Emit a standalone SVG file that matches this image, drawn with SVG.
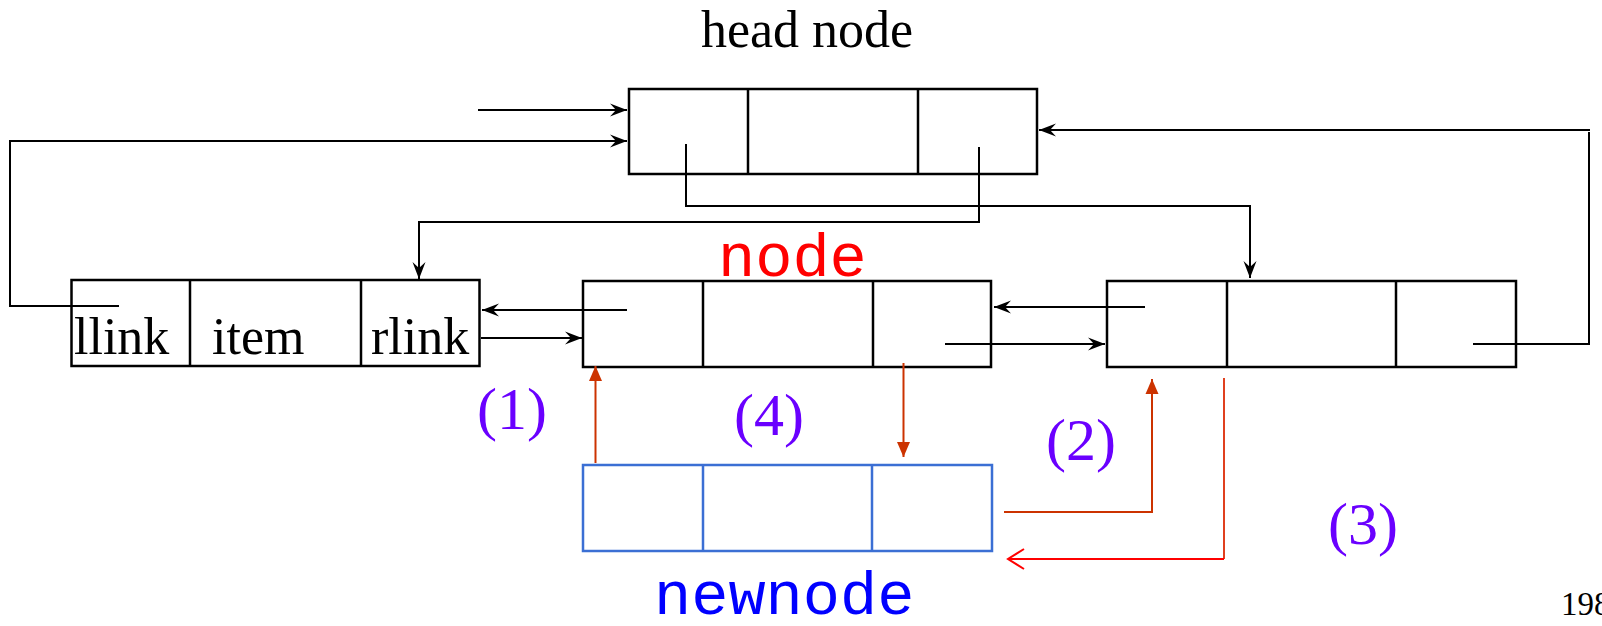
<svg xmlns="http://www.w3.org/2000/svg" width="1602" height="626" viewBox="0 0 1602 626">
<defs>
<style>
.box{fill:none;stroke:#000;stroke-width:2.5}
.nbox{fill:none;stroke:#3B6FD4;stroke-width:2.5}
.blk{fill:none;stroke:#000;stroke-width:2}
.red{fill:none;stroke:#CC3300;stroke-width:2}
.txt{font-family:"Liberation Serif",serif;font-size:52px;fill:#000}
.num{font-family:"Liberation Serif",serif;font-size:60px;fill:#6A00FF}
.mono{font-family:"Liberation Mono",monospace;font-size:62px}
</style>
<marker id="ab" markerWidth="20" markerHeight="14" viewBox="-17 -7 20 14" refX="0" refY="0" orient="auto" markerUnits="userSpaceOnUse">
<path d="M0,0 L-17,-6.5 L-11,0 L-17,6.5 Z" fill="#000"/>
</marker>
<marker id="ar" markerWidth="16" markerHeight="14" viewBox="-15 -7 16 14" refX="0" refY="0" orient="auto" markerUnits="userSpaceOnUse">
<path d="M0,0 L-15,-6.5 L-15,6.5 Z" fill="#CC3300"/>
</marker>
<marker id="av" markerWidth="20" markerHeight="24" viewBox="-17 -12 20 24" refX="0" refY="0" orient="auto" markerUnits="userSpaceOnUse">
<path d="M-16,-10 L0,0 L-16,10" fill="none" stroke="#FF0000" stroke-width="2"/>
</marker>
</defs>
<rect width="1602" height="626" fill="#fff"/>

<g id="head-node">
<text class="txt" x="807" y="47" text-anchor="middle">head node</text>
<rect class="box" x="629" y="89" width="408" height="85"/>
<line class="box" x1="748" y1="89" x2="748" y2="174"/>
<line class="box" x1="918" y1="89" x2="918" y2="174"/>
</g>

<g id="left-node">
<rect class="box" x="71.5" y="280" width="408" height="86"/>
<line class="box" x1="190" y1="280" x2="190" y2="366"/>
<line class="box" x1="361" y1="280" x2="361" y2="366"/>
<text class="txt" x="74" y="354">llink</text>
<text class="txt" x="212" y="354">item</text>
<text class="txt" x="371" y="354">rlink</text>
</g>

<g id="node">
<text class="mono" x="718" y="276" fill="#FF0000" font-size="62">node</text>
<rect class="box" x="583" y="281" width="408" height="86"/>
<line class="box" x1="703" y1="281" x2="703" y2="367"/>
<line class="box" x1="873" y1="281" x2="873" y2="367"/>
</g>

<g id="right-node">
<rect class="box" x="1107" y="281" width="409" height="86"/>
<line class="box" x1="1227" y1="281" x2="1227" y2="367"/>
<line class="box" x1="1396" y1="281" x2="1396" y2="367"/>
</g>

<g id="newnode">
<rect class="nbox" x="583" y="465" width="409" height="86"/>
<line class="nbox" x1="703" y1="465" x2="703" y2="551"/>
<line class="nbox" x1="872" y1="465" x2="872" y2="551"/>
<text class="mono" x="654" y="614" fill="#0000FF" font-size="63">newnode</text>
</g>

<g id="labels">
<text class="num" x="477" y="429">(1)</text>
<text class="num" x="734" y="435">(4)</text>
<text class="num" x="1046" y="460">(2)</text>
<text class="num" x="1328" y="544">(3)</text>
<text x="1561" y="615" font-family="Liberation Serif,serif" font-size="33" fill="#000">198</text>
</g>

<g id="connectors">
<path class="blk" d="M478,110 H627" marker-end="url(#ab)"/>
<path class="blk" d="M119,306 H10 V141 H627" marker-end="url(#ab)"/>
<path class="blk" d="M686,144 V206 H1250 V278" marker-end="url(#ab)"/>
<path class="blk" d="M979,147 V222 H419 V279" marker-end="url(#ab)"/>
<path class="blk" d="M627,310 H482" marker-end="url(#ab)"/>
<path class="blk" d="M481,338 H582" marker-end="url(#ab)"/>
<path class="blk" d="M1145,307 H994" marker-end="url(#ab)"/>
<path class="blk" d="M945,344 H1105" marker-end="url(#ab)"/>
<path class="blk" d="M1473,344 H1589 V132 M1590,130 H1039" marker-end="url(#ab)"/>
<path class="red" d="M595.5,463 V366" marker-end="url(#ar)"/>
<path class="red" d="M903.5,363 V457" marker-end="url(#ar)"/>
<path class="red" d="M1004,512 H1152 V379" marker-end="url(#ar)"/>
<path fill="none" stroke="#E0401F" stroke-width="2" d="M1224,378 V559"/>
<path fill="none" stroke="#FF0000" stroke-width="2" d="M1224,559 H1008" marker-end="url(#av)"/>
</g>
</svg>
